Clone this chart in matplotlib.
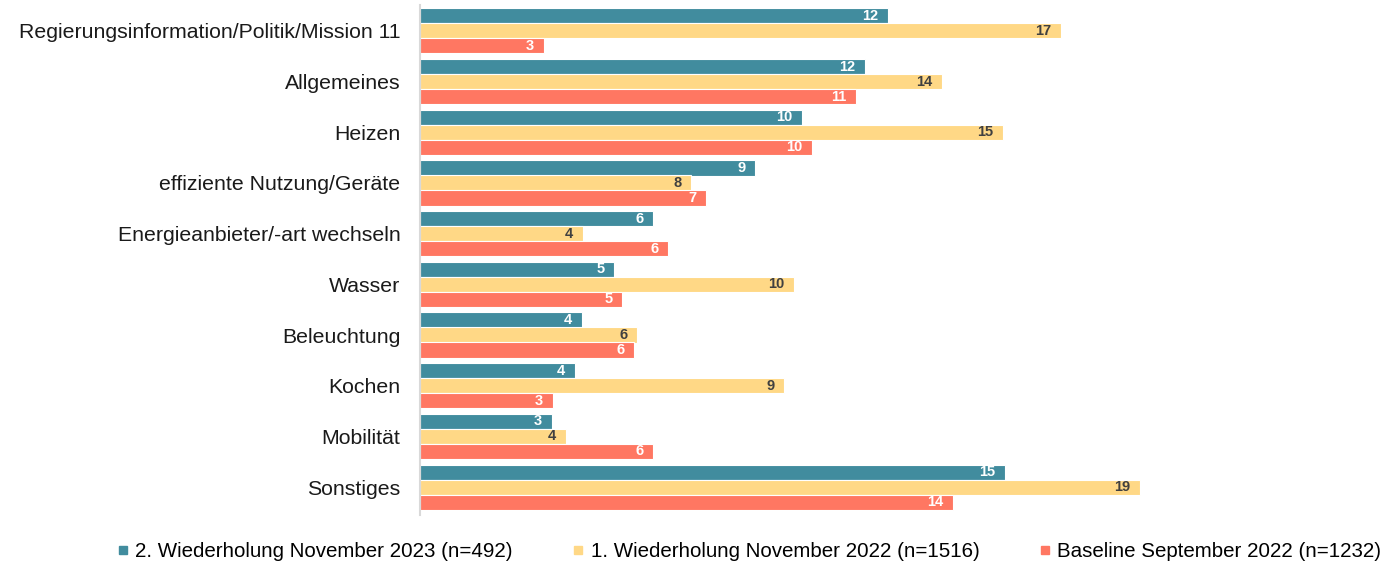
import matplotlib
matplotlib.use('Agg')
import matplotlib.pyplot as plt
from matplotlib.lines import Line2D
import numpy as np

plt.rcParams['font.family'] = ['Liberation Sans', 'DejaVu Sans']

categories = [
    'Regierungsinformation/Politik/Mission 11',
    'Allgemeines',
    'Heizen',
    'effiziente Nutzung/Geräte',
    'Energieanbieter/-art wechseln',
    'Wasser',
    'Beleuchtung',
    'Kochen',
    'Mobilität',
    'Sonstiges',
]

series_names = [
    '2. Wiederholung November 2023 (n=492)',
    '1. Wiederholung November 2022 (n=1516)',
    'Baseline September 2022 (n=1232)',
]

# Balkenlaengen (aus dem Bild geschaetzt, in %)
wdh2_2023 = [12.32, 11.71, 10.05, 8.82, 6.13, 5.11, 4.26, 4.08, 3.47, 15.39]
wdh1_2022 = [16.87, 13.74, 15.34, 7.13, 4.29, 9.84, 5.71, 9.58, 3.84, 18.95]
base_2022 = [3.26, 11.47, 10.32, 7.53, 6.53, 5.32, 5.63, 3.50, 6.13, 14.03]

# angezeigte Beschriftungen
lbl_wdh2 = [12, 12, 10, 9, 6, 5, 4, 4, 3, 15]
lbl_wdh1 = [17, 14, 15, 8, 4, 10, 6, 9, 4, 19]
lbl_base = [3, 11, 10, 7, 6, 5, 6, 3, 6, 14]

colors = ['#418C9E', '#FFD886', '#FF7762']
label_colors = ['white', '#404040', 'white']

fig = plt.figure(figsize=(13.84, 5.74), dpi=100)
ax = fig.add_axes([420 / 1384, 1 - 515 / 574, 760 / 1384, 510 / 574])

y = np.arange(len(categories))
offsets = [-0.296, 0.0, 0.296]
all_vals = [wdh2_2023, wdh1_2022, base_2022]
all_lbls = [lbl_wdh2, lbl_wdh1, lbl_base]

for vals, lbls, off, col, lcol in zip(all_vals, all_lbls, offsets, colors, label_colors):
    ax.barh(y + off, vals, height=0.3, color=col, edgecolor='white', linewidth=0.8)
    for yi, v, l in zip(y, vals, lbls):
        ax.annotate(str(l), (v, yi + off), xytext=(-7, 0), textcoords='offset points',
                    ha='right', va='center', fontsize=10.5, fontweight='bold', color=lcol)

ax.set_xlim(0, 20)
ax.set_ylim(9.55, -0.51)
ax.set_yticks(y)
ax.set_yticklabels(categories, fontsize=15.3, color='#1a1a1a')
ax.tick_params(axis='y', length=0, pad=14)
ax.set_xticks([])
for s in ['top', 'right', 'bottom']:
    ax.spines[s].set_visible(False)
ax.spines['left'].set_color('#d9d9d9')
ax.spines['left'].set_linewidth(1.5)

handles = [Line2D([0], [0], marker='s', linestyle='none', markersize=6,
                  markerfacecolor=c, markeredgecolor=c) for c in colors]
fig.legend(handles, series_names, loc='lower center', bbox_to_anchor=(749 / 1384, -0.01),
           ncol=3, frameon=False, fontsize=14.8, handlelength=0.6, handletextpad=0.3,
           columnspacing=2.9)

fig.savefig('out.png', dpi=100)
